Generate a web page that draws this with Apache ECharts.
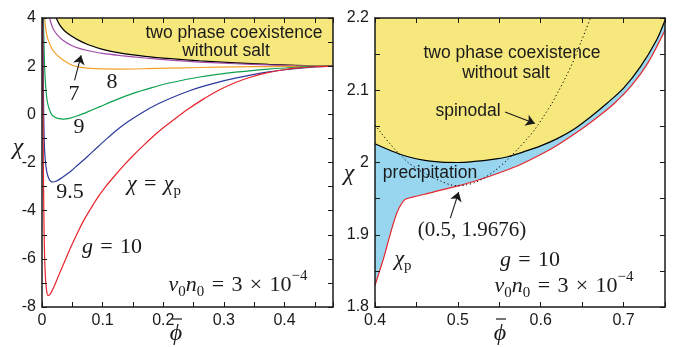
<!DOCTYPE html>
<html>
<head>
<meta charset="utf-8">
<script src="https://cdn.jsdelivr.net/npm/echarts@6/dist/echarts.min.js"></script>
<style>
html, body { margin: 0; padding: 0; background: #fff; }
#chart { width: 680px; height: 347px; }
</style>
</head>
<body>
<div id="chart"></div>
<script>
// left panel: chi_p vs phi for several g, v0n0 = 3e-4
const binodalLeft = [[0.0234,4],[0.03,3.68],[0.038,3.45],[0.048,3.26],[0.06,3.08],[0.0754,2.9],[0.1,2.7],[0.13,2.54],[0.17,2.41],[0.212,2.31],[0.26,2.22],[0.319,2.14],[0.374,2.075],[0.418,2.035],[0.45,2.01],[0.48,2.0]]
const chiG7 = [[0.0125,4],[0.016,3.7],[0.02,3.48],[0.026,3.28],[0.035,3.07],[0.048,2.87],[0.06,2.75],[0.0754,2.65],[0.1,2.53],[0.13,2.44],[0.17,2.34],[0.212,2.25],[0.26,2.17],[0.319,2.1],[0.374,2.05],[0.418,2.02],[0.45,2.005],[0.48,2.0]]
const chiG8 = [[0.0044,4],[0.006,3.6],[0.008,3.3],[0.01,3.1],[0.014,2.85],[0.018,2.66],[0.024,2.48],[0.032,2.31],[0.04,2.17],[0.048,2.06],[0.06,1.97],[0.0754,1.92],[0.1,1.885],[0.13,1.88],[0.17,1.895],[0.212,1.92],[0.26,1.945],[0.319,1.97],[0.374,1.985],[0.42,1.995],[0.48,2.0]]
const chiG9 = [[0.0025,4],[0.003,3.2],[0.004,2.2],[0.0054,1.4],[0.0075,0.75],[0.01,0.38],[0.014,0.08],[0.019,-0.08],[0.026,-0.17],[0.0354,-0.2],[0.045,-0.17],[0.06,-0.05],[0.075,0.1],[0.0956,0.32],[0.119,0.57],[0.15,0.87],[0.18,1.1],[0.21,1.3],[0.26,1.55],[0.319,1.75],[0.374,1.88],[0.418,1.955],[0.45,1.99],[0.48,2.0]]
const chiG95 = [[0.0015,4],[0.002,2],[0.0028,0],[0.0036,-1],[0.0045,-1.6],[0.006,-2.05],[0.008,-2.4],[0.011,-2.65],[0.0145,-2.78],[0.018,-2.81],[0.023,-2.78],[0.03,-2.68],[0.04,-2.5],[0.048,-2.35],[0.06,-2.08],[0.075,-1.75],[0.09,-1.4],[0.103,-1.1],[0.12,-0.72],[0.141,-0.32],[0.165,0.07],[0.19,0.42],[0.215,0.7],[0.24,0.95],[0.264,1.15],[0.29,1.33],[0.319,1.5],[0.35,1.66],[0.374,1.76],[0.4,1.85],[0.43,1.93],[0.45,1.97],[0.48,2.0]]
const chiG10 = [[0.001,4],[0.0013,2],[0.0017,0],[0.0022,-2],[0.003,-4],[0.004,-5.6],[0.0055,-6.7],[0.0075,-7.3],[0.0098,-7.52],[0.0125,-7.5],[0.016,-7.35],[0.02,-7.15],[0.026,-6.78],[0.035,-6.25],[0.048,-5.49],[0.06,-4.84],[0.07,-4.35],[0.08,-3.93],[0.092,-3.45],[0.105,-3.0],[0.12,-2.55],[0.135,-2.12],[0.15,-1.72],[0.167,-1.3],[0.185,-0.88],[0.2,-0.56],[0.22,-0.17],[0.24,0.2],[0.264,0.6],[0.29,0.98],[0.319,1.32],[0.345,1.55],[0.374,1.74],[0.4,1.855],[0.418,1.915],[0.45,1.975],[0.48,2.0]]

// right panel: g = 10 close-up
const binodalRight = [[0.4,2.026],[0.42,2.016],[0.44,2.008],[0.46,2.003],[0.48,2.0005],[0.5,2.0],[0.52,2.0015],[0.54,2.004],[0.56,2.008],[0.58,2.015],[0.6,2.023],[0.62,2.033],[0.64,2.046],[0.66,2.063],[0.68,2.082],[0.7,2.103],[0.72,2.132],[0.74,2.17],[0.75,2.197]]
const chiPRight = [[0.4,1.83],[0.405,1.848],[0.41,1.866],[0.4165,1.893],[0.422,1.915],[0.427,1.932],[0.4326,1.944],[0.4366,1.949],[0.445,1.952],[0.46,1.956],[0.477,1.961],[0.5,1.9676],[0.517,1.973],[0.541,1.982],[0.56,1.99],[0.577,1.998],[0.6,2.011],[0.62,2.024],[0.649,2.046],[0.67,2.064],[0.689,2.082],[0.71,2.107],[0.73,2.139],[0.75,2.183]]
const spinodalRight = [[0.4,2.052],[0.408,2.04],[0.4165,2.028],[0.425,2.017],[0.4326,2.008],[0.44,2.0],[0.45,1.992],[0.46,1.985],[0.47,1.979],[0.48,1.974],[0.49,1.9695],[0.5,1.9676],[0.51,1.969],[0.52,1.972],[0.531,1.978],[0.545,1.989],[0.559,2.003],[0.571,2.017],[0.583,2.032],[0.593,2.046],[0.603,2.063],[0.613,2.081],[0.622,2.1],[0.631,2.12],[0.64,2.142],[0.649,2.168],[0.655,2.185],[0.66,2.2]]

// arrows (from, to) in data coords
const arrowG7 = [[0.0537,1.41],[0.0645,2.45]]
const arrowSpinodal = [[0.557,2.07],[0.593,2.054]]
const arrowCritical = [[0.4909,1.923],[0.501,1.959]]

const INK = '#1a1a1a'
const SANS = '"Liberation Sans", Arial, sans-serif'
const SERIF = '"Liberation Serif", "Times New Roman", serif'
const YELLOW = '#f6e87c'
const CYAN = '#97d6ee'
const SP = '\u2004'   // wider gap around = and ×

const tenths = (v, zeroAs) => {
  const r = Math.round(v * 10)
  if (Math.abs(v * 10 - r) > 1e-6) return ''
  if (zeroAs && r % 10 === 0) return String(r / 10)
  return r === 0 ? '0' : (r / 10).toFixed(1)
}

function axis(grid, min, max, interval, pos, fmt) {
  return {
    type: 'value', gridIndex: grid, min, max, interval, position: pos, z: 10,
    axisLine: { show: true, onZero: false, lineStyle: { color: INK, width: 1.5 } },
    axisTick: { show: true, inside: true, length: 5, lineStyle: { color: INK, width: 1 } },
    axisLabel: fmt
      ? { show: true, formatter: fmt, margin: 6, color: INK, fontFamily: SANS, fontSize: 16 }
      : { show: false },
    splitLine: { show: false }
  }
}

function curve(data, color, xi, extra) {
  return Object.assign({
    type: 'line', data, xAxisIndex: xi, yAxisIndex: xi,
    showSymbol: false, symbol: 'none', smooth: 0.3,
    lineStyle: { color, width: 1.2 }, silent: true
  }, extra || {})
}

function arrow(pts, curveness) {
  return {
    silent: true, symbol: ['none', 'arrow'], symbolSize: 9,
    label: { show: false },
    lineStyle: { color: INK, width: 1.1, type: 'solid', curveness },
    data: [[{ coord: pts[0] }, { coord: pts[1] }]]
  }
}

const mathRich = s => ({
  i: { fontFamily: SERIF, fontStyle: 'italic', fontSize: s, fill: INK },
  r: { fontFamily: SERIF, fontSize: s, fill: INK },
  sub: { fontFamily: SERIF, fontSize: s * 0.68, fill: INK, padding: [s * 0.6, 0, 0, 0] },
  sup: { fontFamily: SERIF, fontSize: s * 0.68, fill: INK, padding: [0, 0, s * 0.8, 0] }
})

function txt(x, y, text, style) {
  return {
    type: 'text', x, y, silent: true, z: 20,
    style: Object.assign({
      text, fill: INK, align: 'center', verticalAlign: 'middle',
      textAlign: 'center', textVerticalAlign: 'middle'
    }, style)
  }
}
const sansTxt = (x, y, t) => txt(x, y, t, { fontFamily: SANS, fontSize: 17.5 })
const mathTxt = (x, y, t, s) => txt(x, y, t, { fontFamily: SERIF, fontSize: s, rich: mathRich(s) })
// phi with an overbar
const phiBar = (x, y) => [
  txt(x, y, 'ϕ', { fontFamily: SERIF, fontStyle: 'italic', fontSize: 24 }),
  { type: 'line', silent: true, z: 20, shape: { x1: x - 4, y1: y - 15, x2: x + 6, y2: y - 15 },
    style: { stroke: INK, lineWidth: 1.2 } }
]
const eq = `{r|${SP}=${SP}}`
const v0n0 = `{i|v}{sub|0}{i|n}{sub|0}${eq}{r|3${SP}×${SP}10}{sup|−4}`

const chart = echarts.init(document.getElementById('chart'))
chart.setOption({
  animation: false,
  backgroundColor: '#fff',
  grid: [
    { left: 42, top: 18, width: 291, height: 289 },
    { left: 375, top: 18, width: 290, height: 289 }
  ],
  xAxis: [
    axis(0, 0, 0.48, 0.05, 'bottom', v => tenths(v)),
    axis(0, 0, 0.48, 0.05, 'top'),
    axis(1, 0.4, 0.75, 0.05, 'bottom', v => tenths(v)),
    axis(1, 0.4, 0.75, 0.05, 'top')
  ],
  yAxis: [
    axis(0, -8, 4, 1, 'left', v => (Math.round(v) % 2 === 0 ? String(Math.round(v)) : '')),
    axis(0, -8, 4, 1, 'right'),
    axis(1, 1.8, 2.2, 0.05, 'left', v => tenths(v, true)),
    axis(1, 1.8, 2.2, 0.05, 'right')
  ],
  series: [
    curve(binodalLeft, '#000', 0, {
      areaStyle: { color: YELLOW, opacity: 1, origin: 'end' },
      markLine: arrow(arrowG7, -0.15)
    }),
    curve(chiG7, '#a24aa6', 0),
    curve(chiG8, '#f3a02a', 0),
    curve(chiG9, '#0ea150', 0),
    curve(chiG95, '#2c3a9e', 0),
    curve(chiG10, '#e8232b', 0),

    curve(chiPRight, '#e8232b', 2, {
      areaStyle: { color: CYAN, opacity: 1, origin: 'end' },
      markLine: arrow(arrowCritical, 0.1)
    }),
    curve(binodalRight, '#000', 2, {
      areaStyle: { color: YELLOW, opacity: 1, origin: 'end' }
    }),
    curve(spinodalRight, '#000', 2, {
      lineStyle: { color: '#000', width: 1, type: [1.2, 2.6] },
      markLine: arrow(arrowSpinodal, -0.15)
    })
  ],
  graphic: [
    // left panel
    sansTxt(234, 33, 'two phase coexistence'),
    sansTxt(226, 51, 'without salt'),
    mathTxt(74, 94, '{r|7}', 22),
    mathTxt(112, 82, '{r|8}', 22),
    mathTxt(79, 127, '{r|9}', 22),
    mathTxt(70, 192, '{r|9.5}', 22),
    mathTxt(154, 184, `{i|χ}${eq}{i|χ}{sub|p}`, 22),
    mathTxt(112, 247, `{i|g}${eq}{r|10}`, 22),
    mathTxt(238, 285, v0n0, 22),
    mathTxt(18, 148, '{i|χ}', 24),
    ...phiBar(176, 334),
    // right panel
    sansTxt(512, 53, 'two phase coexistence'),
    sansTxt(506, 73, 'without salt'),
    sansTxt(468, 111, 'spinodal'),
    sansTxt(430, 173, 'precipitation'),
    mathTxt(472, 230, '{r|(0.5, 1.9676)}', 21),
    mathTxt(403, 259, '{i|χ}{sub|p}', 22),
    mathTxt(530, 260, `{i|g}${eq}{r|10}`, 22),
    mathTxt(564, 286, v0n0, 22),
    mathTxt(349, 174, '{i|χ}', 24),
    ...phiBar(500, 334)
  ]
})
</script>
</body>
</html>
